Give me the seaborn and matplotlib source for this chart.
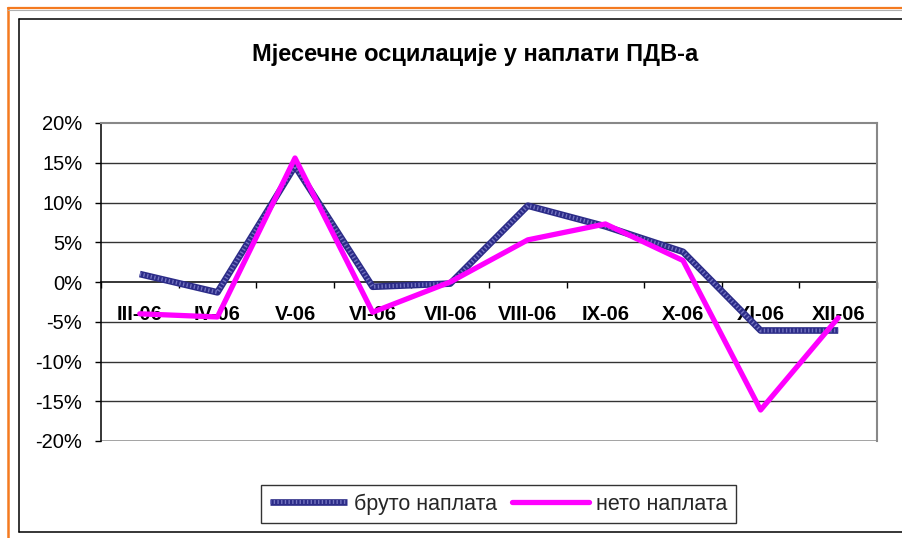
import matplotlib
matplotlib.use('Agg')
import matplotlib.pyplot as plt
from matplotlib.lines import Line2D
from matplotlib.ticker import FuncFormatter
import seaborn as sns
import pandas as pd

# monthly values (%)
months = ['III-06', 'IV-06', 'V-06', 'VI-06', 'VII-06', 'VIII-06', 'IX-06', 'X-06', 'XI-06', 'XII-06']
bruto = [1.0, -1.3, 14.6, -0.6, -0.2, 9.6, 7.0, 3.8, -6.1, -6.1]
neto = [-4.0, -4.4, 15.6, -3.8, 0.0, 5.3, 7.3, 2.7, -16.1, -4.5]
yticks = [-20, -15, -10, -5, 0, 5, 10, 15, 20]

df = pd.DataFrame({'pos': range(len(months)), 'month': months, 'bruto': bruto, 'neto': neto})

sns.set_theme(style='white')
plt.rcParams['font.family'] = ['Liberation Sans', 'DejaVu Sans']

W, H = 903, 538
fig = plt.figure(figsize=(W / 100, H / 100), dpi=100)
fig.patch.set_facecolor('white')

# outer frames (orange + black)
def fline(x0, y0, x1, y1, **kw):
    fig.add_artist(Line2D([x0 / W, x1 / W], [1 - y0 / H, 1 - y1 / H], transform=fig.transFigure, **kw))

fline(8, 8, W, 8, color='#f47a20', lw=1.6)
fline(8, 8, 8, H, color='#f47a20', lw=1.8)
fline(8, 9.6, W, 9.6, color='#b0b0b0', lw=0.8)
fline(19, 19, W, 19, color='black', lw=1.1)
fline(19, 19, 19, 532, color='black', lw=1.1)
fline(19, 532, W, 532, color='black', lw=1.1)

ax = fig.add_axes([101 / W, 1 - 441 / H, 776 / W, 318 / H])
ax.set_facecolor('white')

# blue series: dark base with fine light stripes on top
BLUE_DARK, BLUE_LIGHT = '#2c2c88', '#7474c0'
sns.lineplot(data=df, x='pos', y='bruto', ax=ax, color=BLUE_DARK, lw=4.8, zorder=3)
ax.lines[-1].set_solid_capstyle('butt')
sns.lineplot(data=df, x='pos', y='bruto', ax=ax, color=BLUE_LIGHT, lw=2.8, zorder=3.1)
ln_s = ax.lines[-1]
ln_s.set_dashes([0.35, 0.6])
ln_s.set_dash_capstyle('butt')

sns.lineplot(data=df, x='pos', y='neto', ax=ax, color='#ff00ff', lw=3.8, zorder=4)
ax.lines[-1].set_solid_joinstyle('round')
ax.lines[-1].set_solid_capstyle('round')

ax.set_xlim(-0.5, len(months) - 0.5)
ax.set_ylim(-20, 20)
ax.set_xlabel('')
ax.set_ylabel('')

# grid lines
for v in yticks[1:-1]:
    if v != 0:
        ax.axhline(v, color='#333333', lw=1.0, zorder=1)
ax.axhline(-20, color='#888888', lw=1.8, zorder=1)

for s in ['top', 'right']:
    ax.spines[s].set_color('#888888')
    ax.spines[s].set_linewidth(1.5)
ax.spines['left'].set_color('black')
ax.spines['left'].set_linewidth(1.1)
ax.spines['bottom'].set_position(('data', 0))
ax.spines['bottom'].set_color('black')
ax.spines['bottom'].set_linewidth(1.1)
ax.spines['bottom'].set_zorder(2)

ax.set_yticks(yticks)
ax.yaxis.set_major_formatter(FuncFormatter(lambda v, p: f'{v:.0f}%'))
ax.tick_params(axis='y', which='major', direction='out', length=4.5, width=1, color='black',
               pad=9, labelsize=14.5, labelcolor='black', left=True)

ax.set_xticks([i + 0.5 for i in range(-1, len(months))])
ax.set_xticklabels([])
ax.set_xticks(df['pos'], minor=True)
ax.set_xticklabels(df['month'], minor=True, fontweight='bold')
ax.tick_params(axis='x', which='major', direction='out', length=4.5, width=1, color='black', bottom=True)
ax.tick_params(axis='x', which='minor', length=0, pad=16.5, labelsize=14.5, labelcolor='black', bottom=True)

fig.text(475 / W, 1 - 55 / H, 'Мјесечне осцилације у наплати ПДВ-а', ha='center', va='center',
         fontsize=17, fontweight='bold', color='black')

h_b = (Line2D([], [], color=BLUE_DARK, lw=4.8, solid_capstyle='butt'),
       Line2D([], [], color=BLUE_LIGHT, lw=2.8, dashes=[0.35, 0.6], dash_capstyle='butt'))
h_n = Line2D([], [], color='#ff00ff', lw=3.8)
leg = fig.legend([h_b, h_n], ['бруто наплата', 'нето наплата'], loc='center',
                 bbox_to_anchor=(498.5 / W, 1 - 504 / H), ncol=2, frameon=True, fancybox=False,
                 edgecolor='black', fontsize=15.5, handlelength=3.6, handletextpad=0.3,
                 columnspacing=0.7, borderpad=0.4, borderaxespad=0)
leg.get_frame().set_linewidth(1.0)

fig.savefig('out.png', dpi=100)
